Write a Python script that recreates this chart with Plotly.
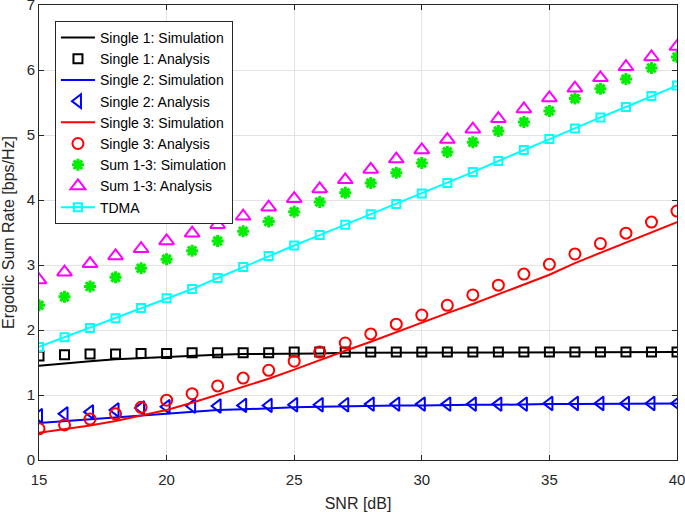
import plotly.graph_objects as go

snr = list(range(15, 41))

single1_sim = [1.45, 1.49, 1.52, 1.55, 1.57, 1.59, 1.61, 1.62, 1.63, 1.63, 1.64, 1.64, 1.65,
               1.65, 1.65, 1.65, 1.66, 1.66, 1.66, 1.66, 1.66, 1.66, 1.66, 1.66, 1.66, 1.66]
single1_ana = [1.60, 1.62, 1.63, 1.63, 1.64, 1.64, 1.65, 1.65, 1.65, 1.65, 1.66, 1.66, 1.66,
               1.66, 1.66, 1.66, 1.66, 1.66, 1.66, 1.66, 1.66, 1.66, 1.66, 1.66, 1.66, 1.66]
single2_sim = [0.57, 0.60, 0.63, 0.66, 0.69, 0.72, 0.75, 0.77, 0.78, 0.80, 0.81, 0.82, 0.83,
               0.83, 0.84, 0.84, 0.85, 0.85, 0.85, 0.86, 0.86, 0.86, 0.86, 0.87, 0.87, 0.87]
single2_ana = [0.68, 0.71, 0.74, 0.77, 0.80, 0.82, 0.83, 0.83, 0.84, 0.84, 0.85, 0.85, 0.85,
               0.86, 0.86, 0.86, 0.86, 0.86, 0.86, 0.86, 0.87, 0.87, 0.87, 0.87, 0.87, 0.87]
single3_sim = [0.42, 0.47, 0.53, 0.60, 0.68, 0.77, 0.88, 1.00, 1.12, 1.25, 1.39, 1.54, 1.68,
               1.82, 1.97, 2.11, 2.26, 2.40, 2.55, 2.70, 2.85, 3.03, 3.19, 3.34, 3.50, 3.66]
single3_ana = [0.48, 0.54, 0.63, 0.71, 0.81, 0.92, 1.02, 1.14, 1.26, 1.38, 1.52, 1.66, 1.80,
               1.94, 2.09, 2.23, 2.38, 2.54, 2.69, 2.86, 3.01, 3.17, 3.33, 3.49, 3.66, 3.83]
sum_sim = [2.38, 2.51, 2.67, 2.81, 2.95, 3.09, 3.22, 3.37, 3.52, 3.67, 3.82, 3.97, 4.11,
           4.26, 4.42, 4.57, 4.74, 4.89, 5.06, 5.20, 5.37, 5.56, 5.71, 5.86, 6.03, 6.20]
sum_ana = [2.77, 2.89, 3.02, 3.14, 3.25, 3.37, 3.49, 3.62, 3.75, 3.89, 4.02, 4.17, 4.31,
           4.47, 4.63, 4.77, 4.93, 5.09, 5.25, 5.40, 5.57, 5.72, 5.88, 6.05, 6.20, 6.36]
tdma = [1.74, 1.89, 2.03, 2.18, 2.34, 2.49, 2.63, 2.80, 2.97, 3.14, 3.30, 3.46, 3.62,
        3.78, 3.94, 4.10, 4.26, 4.43, 4.60, 4.77, 4.94, 5.10, 5.27, 5.43, 5.60, 5.76]

x_ticks = [15, 20, 25, 30, 35, 40]
y_ticks = [0, 1, 2, 3, 4, 5, 6, 7]

fig = go.Figure()

def line(name, y, color):
    fig.add_trace(go.Scatter(x=snr, y=y, name=name, mode="lines",
                             line=dict(color=color, width=2)))

def mark(name, y, color, symbol, size, lw=2):
    fig.add_trace(go.Scatter(x=snr, y=y, name=name, mode="markers",
                             marker=dict(symbol=symbol, size=size, color=color,
                                         line=dict(color=color, width=lw))))

line("Single 1: Simulation", single1_sim, "#000000")
mark("Single 1: Analysis", single1_ana, "#000000", "square-open", 9)
line("Single 2: Simulation", single2_sim, "#0000ff")
mark("Single 2: Analysis", single2_ana, "#0000ff", "triangle-left-open", 12)
line("Single 3: Simulation", single3_sim, "#ff0000")
mark("Single 3: Analysis", single3_ana, "#ff0000", "circle-open", 11)
mark("Sum 1-3: Simulation", sum_sim, "#00ee00", "asterisk-open", 10, 3)
mark("Sum 1-3: Analysis", sum_ana, "#ff00ff", "triangle-up-open", 13)
fig.add_trace(go.Scatter(x=snr, y=tdma, name="TDMA", mode="lines+markers",
                         line=dict(color="#00ffff", width=2),
                         marker=dict(symbol="square-open", size=8, color="#00ffff",
                                     line=dict(color="#00ffff", width=2))))

axis_common = dict(showline=True, linecolor="#262626", linewidth=1, mirror="ticks",
                   ticks="inside", ticklen=5, tickcolor="#262626", automargin=False,
                   showgrid=True, gridcolor="#e3e3e3", gridwidth=1, zeroline=False,
                   ticklabeloverflow="allow",
                   tickfont=dict(size=15, color="#262626"))

fig.update_layout(
    width=685, height=512,
    margin=dict(l=39, r=8, t=5, b=52),
    paper_bgcolor="white", plot_bgcolor="white",
    font=dict(family="Liberation Sans, Arial, sans-serif", color="#262626"),
    xaxis=dict(range=[15, 40], tickvals=x_ticks, ticklabelstandoff=6,
               title=dict(text="SNR [dB]", font=dict(size=16)),
               **axis_common),
    yaxis=dict(range=[0, 7], tickvals=y_ticks,
               title=dict(text="Ergodic Sum Rate [bps/Hz]", font=dict(size=16)),
               **axis_common),
    legend=dict(x=0.025, y=0.965, xanchor="left", yanchor="top",
                bgcolor="white", bordercolor="#262626", borderwidth=1,
                font=dict(size=14, color="#000000"), tracegroupgap=0,
                itemwidth=34),
    showlegend=True,
)

fig.write_html("out.html", config={"displayModeBar": False},
               post_script="document.body.style.margin='0';")
